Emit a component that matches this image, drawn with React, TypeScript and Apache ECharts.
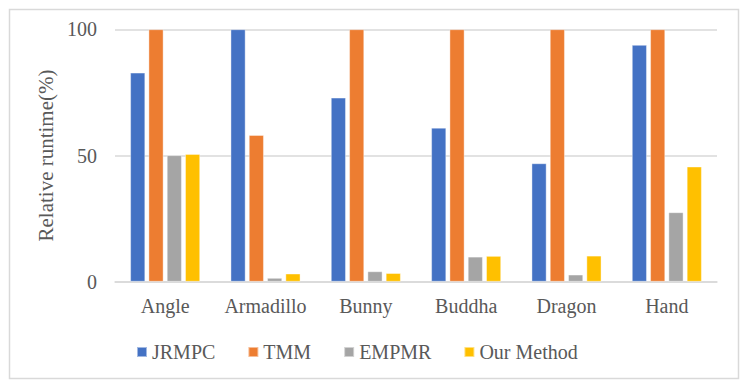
import React, { useEffect, useRef } from "react";
import * as echarts from "echarts";

const categories = ["Angle", "Armadillo", "Bunny", "Buddha", "Dragon", "Hand"];
const seriesNames = ["JRMPC", "TMM", "EMPMR", "Our Method"];
const jrmpc = [82.8, 100, 72.9, 61.0, 46.9, 93.8];
const tmm = [100, 58.1, 100, 100, 100, 100];
const empmr = [50.1, 1.5, 4.1, 9.9, 2.8, 27.5];
const ourMethod = [50.6, 3.2, 3.4, 10.2, 10.3, 45.6];
const yTicks = { min: 0, max: 100, interval: 50 };
const colors = ["#4472C4", "#ED7D31", "#A5A5A5", "#FFC000"];

const FONT = "Liberation Serif";
const TEXT = "#595959";

export default function App() {
  const ref = useRef<HTMLDivElement>(null);
  useEffect(() => {
    if (!ref.current) return;
    const chart = echarts.init(ref.current, null, { renderer: "svg" });
    const data = [jrmpc, tmm, empmr, ourMethod];
    chart.setOption({
      animation: false,
      color: colors,
      textStyle: { fontFamily: FONT },
      graphic: [
        {
          type: "rect",
          shape: { x: 9.5, y: 9.5, width: 729, height: 369 },
          style: { fill: "none", stroke: "#d9d9d9", lineWidth: 1.5 },
          silent: true,
        },
      ],
      grid: { left: 115, right: 30, top: 29.3, bottom: 104.3, containLabel: false },
      legend: {
        data: seriesNames,
        left: 136,
        top: 342,
        padding: 0,
        icon: "rect",
        itemWidth: 10,
        itemHeight: 10,
        itemGap: 32,
        textStyle: { fontFamily: FONT, fontSize: 20, color: TEXT },
      },
      xAxis: {
        type: "category",
        data: categories,
        axisLine: { show: true, lineStyle: { color: "#d9d9d9", width: 1.5 } },
        axisTick: { show: false },
        axisLabel: { fontFamily: FONT, fontSize: 20, color: TEXT, margin: 14, interval: 0 },
      },
      yAxis: {
        type: "value",
        min: yTicks.min,
        max: yTicks.max,
        interval: yTicks.interval,
        name: "Relative runtime(%)",
        nameLocation: "middle",
        nameGap: 57,
        nameTextStyle: { fontFamily: FONT, fontSize: 21, color: TEXT },
        axisLine: { show: false },
        axisTick: { show: false },
        splitLine: { lineStyle: { color: "#d9d9d9", width: 1.5 } },
        axisLabel: { fontFamily: FONT, fontSize: 20, color: TEXT, margin: 18 },
      },
      series: seriesNames.map((name, i) => ({
        name,
        type: "bar",
        data: data[i],
        barWidth: 15,
        barGap: "22%",
        itemStyle: { color: colors[i], borderColor: "rgba(255,255,255,0.5)", borderWidth: 0.8 },
      })),
    });
    return () => chart.dispose();
  }, []);
  return (
    <div
      ref={ref}
      style={{ position: "fixed", left: 0, top: 0, width: 747, height: 386, background: "#fff" }}
    />
  );
}
